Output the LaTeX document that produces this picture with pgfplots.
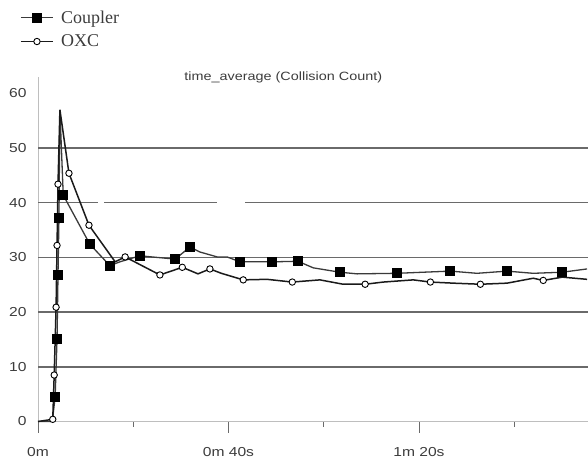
\documentclass[border=0pt]{standalone}
\usepackage{fontspec}
\usepackage{pgfplots}
\pgfplotsset{compat=1.18}
\newfontfamily\tickfont[FakeStretch=1.2]{Liberation Sans}
\newfontfamily\legfont{Liberation Serif}
\definecolor{txt}{HTML}{3C3C3C}
\definecolor{gridc}{HTML}{6A6A6A}
\definecolor{axc}{HTML}{BEBEBE}
\definecolor{cpl}{HTML}{3A3A3A}
\definecolor{oxc}{HTML}{1A1A1A}
\begin{document}
\begin{tikzpicture}
\begin{axis}[
  at={(0,0)}, anchor=south west,
  scale only axis, width=550bp, height=344.5bp,
  xmin=0, xmax=115.5, ymin=0, ymax=63,
  clip=false,
  axis x line*=bottom, axis y line*=left,
  axis line style={draw=axc, line width=0.8bp, -},
  xtick={0,40,80}, xticklabels={0m, 0m 40s, 1m 20s},
  minor xtick={20,60,100},
  ytick={0,10,...,60},
  ytick style={draw=none},
  xtick style={draw=gridc, line width=0.8bp},
  tick align=outside,
  major tick length=11bp, minor tick length=5bp,
  extra y ticks={10,20,30,40,50}, extra y tick labels={},
  extra y tick style={ymajorgrids=true, major tick length=0pt},
  major grid style={draw=gridc, line width=1.4bp},
  /pgf/number format/assume math mode=true,
  ticklabel style={font=\tickfont\fontsize{13bp}{15bp}\selectfont, text=txt},
  xticklabel style={yshift=-11bp},
  yticklabel style={xshift=3bp},
  legend style={at={(axis description cs:-0.0327,1.197)}, anchor=north west,
    draw=none, fill=none, inner sep=0pt,
    font=\legfont\fontsize{18bp}{20bp}\selectfont, text=txt,
    nodes={inner sep=1.5bp}, row sep=7bp, column sep=6bp,
    cells={anchor=west}},
  legend image code/.code={\draw[#1,mark indices={2}] plot coordinates {(0bp,0bp) (16bp,0bp) (32bp,0bp)};},
]
% gaps seen in the 40 grid line
\draw[white, line width=2.6bp] (axis cs:12.6,40) -- (axis cs:13.8,40);
\draw[white, line width=2.6bp] (axis cs:37.6,40) -- (axis cs:43.5,40);
\node[font=\tickfont\fontsize{12bp}{14bp}\selectfont, text=txt, anchor=base] at (axis description cs:0.446,0.99) {time\_average (Collision Count)};

\addplot[cpl, line width=1.3bp, mark=square*, mark size=4.3bp,
  mark options={fill=black, draw=black, solid},
  mark indices={3,4,5,6,8,9,10,12,13,14,18,19,20,22,24,26,28,30}] coordinates {
 (0,0) (3.0,0) (3.6,4.5) (4.0,15.1) (4.2,26.8) (4.4,37.2) (4.6,57) (5.3,41.4)
 (10.9,32.4) (15.1,28.5) (17.2,29.2) (21.4,30.3) (28.8,29.7) (31.9,31.9)
 (34,31) (37.6,30.1) (39.7,30.1) (42.4,29.2) (49.2,29.2) (54.6,29.3)
 (57.8,28.1) (63.4,27.3) (67,27) (75.4,27.1) (80.9,27.3) (86.6,27.5)
 (92.2,27.1) (98.5,27.5) (104,27.1) (110.1,27.3) (115.3,27.9)
};
\addlegendentry{Coupler}

\addplot[oxc, line width=1.5bp, mark=*, mark size=3.2bp,
  mark options={fill=white, draw=black, line width=0.9bp, solid},
  mark indices={2,3,4,5,6,8,9,11,12,13,15,17,19,22,25,27,30}] coordinates {
 (0,0) (3.1,0.4) (3.4,8.5) (3.8,20.9) (4.0,32.2) (4.2,43.4) (4.6,57) (6.5,45.4)
 (10.7,35.9) (16.2,29.2) (18.3,30.1) (25.6,26.8) (30.3,28.2) (33.6,27.0)
 (36.1,27.9) (38.5,27.1) (43.1,25.9) (48.1,26.0) (53.4,25.5) (59.2,25.9)
 (64.1,25.1) (68.7,25.1) (72.5,25.5) (78.8,25.9) (82.4,25.5) (87.2,25.3)
 (92.9,25.1) (98.5,25.3) (104,26.2) (106.1,25.8) (110.1,26.4) (115.3,26.0)
};
\addlegendentry{OXC}
\end{axis}
\pgfresetboundingbox
\useasboundingbox (-38bp,-40.5bp) rectangle (550bp,421.5bp);
\end{tikzpicture}
\end{document}
